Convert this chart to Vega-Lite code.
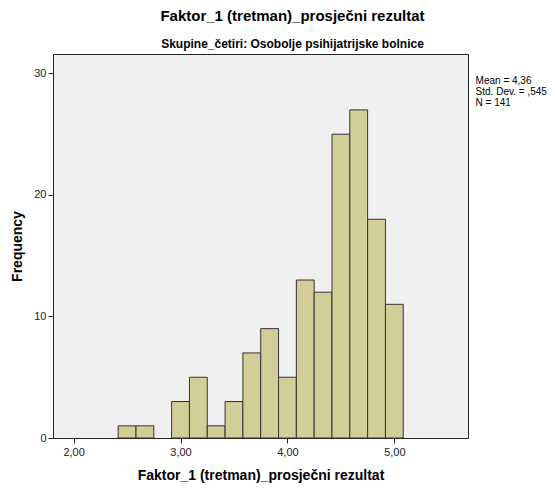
{
  "$schema": "https://vega.github.io/schema/vega-lite/v6.json",
  "width": 415,
  "height": 384,
  "autosize": "none",
  "padding": {"left": 53, "top": 54, "right": 87, "bottom": 50},
  "background": "white",
  "config": {
    "font": "Liberation Sans",
    "view": {"fill": "#F0F0F0", "stroke": "#222222", "strokeWidth": 1}
  },
  "title": {
    "text": "Faktor_1 (tretman)_prosječni rezultat",
    "subtitle": "Skupine_četiri: Osobolje psihijatrijske bolnice",
    "anchor": "middle",
    "dx": 32,
    "offset": 4,
    "fontSize": 15,
    "fontWeight": "bold",
    "color": "#000000",
    "subtitleFontSize": 12,
    "subtitleFontWeight": "bold",
    "subtitleColor": "#000000",
    "subtitlePadding": 15
  },
  "layer": [
    {
      "data": {
        "values": [
          {"start": 2.4167, "end": 2.5833, "count": 1},
          {"start": 2.5833, "end": 2.75, "count": 1},
          {"start": 2.9167, "end": 3.0833, "count": 3},
          {"start": 3.0833, "end": 3.25, "count": 5},
          {"start": 3.25, "end": 3.4167, "count": 1},
          {"start": 3.4167, "end": 3.5833, "count": 3},
          {"start": 3.5833, "end": 3.75, "count": 7},
          {"start": 3.75, "end": 3.9167, "count": 9},
          {"start": 3.9167, "end": 4.0833, "count": 5},
          {"start": 4.0833, "end": 4.25, "count": 13},
          {"start": 4.25, "end": 4.4167, "count": 12},
          {"start": 4.4167, "end": 4.5833, "count": 25},
          {"start": 4.5833, "end": 4.75, "count": 27},
          {"start": 4.75, "end": 4.9167, "count": 18},
          {"start": 4.9167, "end": 5.0833, "count": 11}
        ]
      },
      "mark": {"type": "rect", "fill": "#D3CE97", "stroke": "#333333", "strokeWidth": 1},
      "encoding": {
        "x": {
          "field": "start", "type": "quantitative",
          "scale": {"domain": [1.807, 5.689], "nice": false, "zero": false},
          "axis": {
            "values": [2, 3, 4, 5],
            "labelExpr": "replace(format(datum.value, '.2f'), '.', ',')",
            "grid": false, "domain": false,
            "tickColor": "#222222", "tickSize": 5,
            "labelFontSize": 11, "labelColor": "#222222", "labelPadding": 3,
            "title": "Faktor_1 (tretman)_prosječni rezultat",
            "titleFontSize": 14, "titleFontWeight": "bold", "titleColor": "#000000",
            "titlePadding": 11
          }
        },
        "x2": {"field": "end"},
        "y": {
          "field": "count", "type": "quantitative",
          "scale": {"domain": [0, 31.6], "nice": false},
          "axis": {
            "values": [0, 10, 20, 30],
            "grid": false, "domain": false,
            "tickColor": "#222222", "tickSize": 5,
            "labelFontSize": 11, "labelColor": "#222222", "labelPadding": 2,
            "title": "Frequency",
            "titleFontSize": 14, "titleFontWeight": "bold", "titleColor": "#000000",
            "titlePadding": 9
          }
        },
        "y2": {"datum": 0}
      }
    },
    {
      "data": {"values": [{"mean": "4,36", "sd": ",545", "n": "141"}]},
      "mark": {"type": "text", "align": "left", "baseline": "top", "fontSize": 10, "lineHeight": 11, "fill": "#000000", "clip": false},
      "encoding": {
        "x": {"datum": 5.76},
        "y": {"datum": 29.77},
        "text": {"value": ["Mean = 4,36", "Std. Dev. = ,545", "N = 141"]}
      }
    }
  ]
}
